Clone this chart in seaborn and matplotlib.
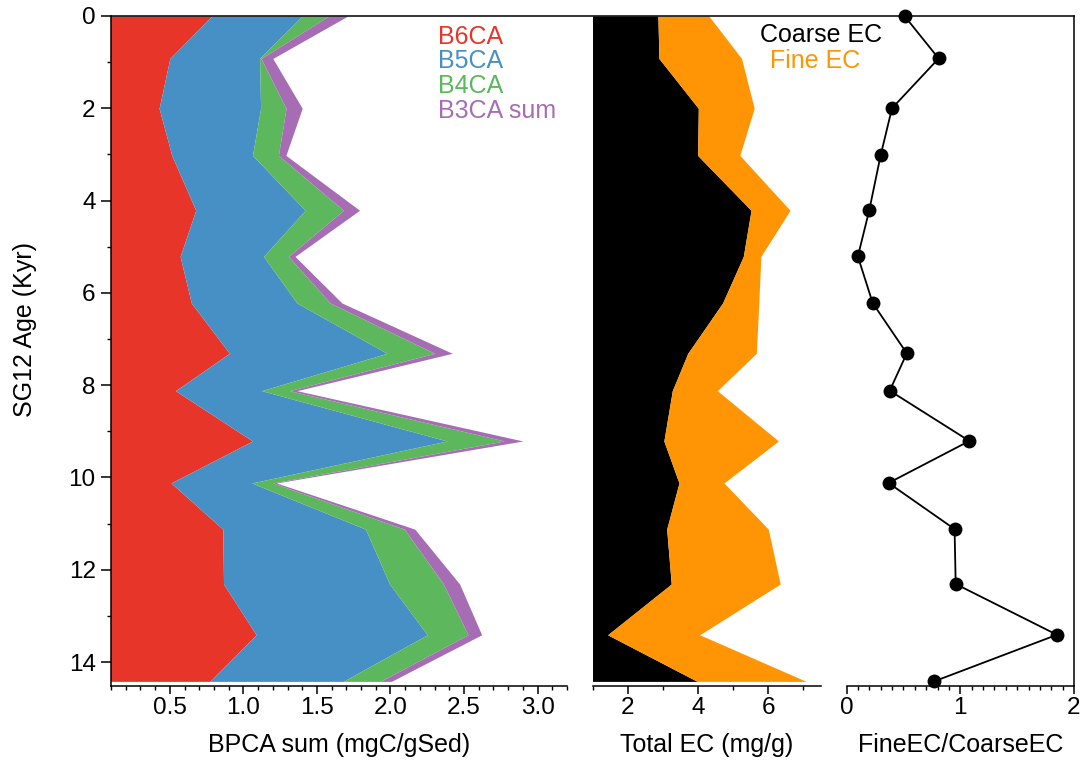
import numpy as np
import pandas as pd
import matplotlib
matplotlib.use("Agg")
import matplotlib.pyplot as plt
from matplotlib.ticker import MultipleLocator, FormatStrFormatter
import seaborn as sns

# Sample ages down core SG12 (kyr)
age_kyr = [0.0, 0.92, 2.0, 3.02, 4.21, 5.21, 6.22, 7.31, 8.12, 9.21,
           10.12, 11.12, 12.31, 13.41, 14.42]

# Benzenepolycarboxylic acid markers (mgC/gSed)
b6ca = [0.785, 0.50, 0.427, 0.513, 0.676, 0.57, 0.646, 0.905, 0.538, 1.062,
        0.508, 0.86, 0.865, 1.087, 0.772]
b5ca = [0.615, 0.61, 0.69, 0.549, 0.744, 0.567, 0.718, 1.071, 0.586, 1.322,
        0.549, 0.97, 1.129, 1.163, 0.907]
b4ca = [0.18, 0.01, 0.173, 0.176, 0.26, 0.169, 0.226, 0.324, 0.189, 0.39,
        0.143, 0.264, 0.366, 0.277, 0.251]
b3ca_sum = [0.13, 0.08, 0.11, 0.051, 0.11, 0.045, 0.08, 0.12, 0.051, 0.126,
            0.025, 0.071, 0.11, 0.093, 0.076]

# Elemental carbon fractions (mg/g)
coarse_ec = [2.86, 2.89, 4.01, 3.99, 5.51, 5.29, 4.70, 3.71, 3.27, 3.03,
             3.46, 3.11, 3.24, 1.43, 3.98]
fine_ec = [1.45, 2.35, 1.59, 1.20, 1.11, 0.50, 1.03, 1.95, 1.28, 3.26,
           1.28, 2.89, 3.10, 2.62, 3.10]
fine_coarse_ratio = [0.51, 0.81, 0.40, 0.30, 0.20, 0.10, 0.23, 0.53, 0.38, 1.08,
                     0.37, 0.95, 0.96, 1.85, 0.77]

bpca_names = ["B6CA", "B5CA", "B4CA", "B3CA sum"]
bpca_colors = ["#E8352A", "#4790C6", "#5DB75C", "#A66DB5"]
coarse_color = "#000000"
fine_color = "#FF9505"

sns.set_theme(style="ticks")
plt.rcParams["font.family"] = ["Liberation Sans", "DejaVu Sans"]
plt.rcParams.update({
    "axes.linewidth": 1.1,
    "xtick.major.width": 1.1, "ytick.major.width": 1.1,
    "xtick.minor.width": 1.0, "ytick.minor.width": 1.0,
    "xtick.major.size": 5.5, "ytick.major.size": 7,
    "xtick.minor.size": 2.8, "ytick.minor.size": 3.2,
    "xtick.labelsize": 17.5, "ytick.labelsize": 17.5,
    "axes.labelsize": 18,
    "xtick.color": "black", "ytick.color": "black",
    "axes.edgecolor": "black", "text.color": "black",
    "axes.labelcolor": "black",
})

W, H = 1086, 766
fig = plt.figure(figsize=(W / 100, H / 100), dpi=100)

top_px, bot_px = 16, 686
b = (H - bot_px) / H
h = (bot_px - top_px) / H

def add_panel(x0, x1):
    return fig.add_axes([x0 / W, b, (x1 - x0) / W, h])

ax1 = add_panel(111, 567)
ax2 = add_panel(592.5, 821)
ax3 = add_panel(846.5, 1074)

ylim = (14.52, 0)
age = np.array(age_kyr)

# Stacked BPCA composition
stack = np.vstack([b6ca, b5ca, b4ca, b3ca_sum])
upper = np.cumsum(stack, axis=0)
lower = np.vstack([np.zeros(len(age)), upper[:-1]])
for lo, up, col in zip(lower, upper, bpca_colors):
    ax1.fill_betweenx(age, lo, up, color=col, linewidth=0)
ax1.set_xlim(0.1, 3.2)
ax1.set_ylim(*ylim)
ax1.xaxis.set_major_locator(MultipleLocator(0.5))
ax1.xaxis.set_minor_locator(MultipleLocator(0.1))
ax1.xaxis.set_major_formatter(FormatStrFormatter("%.1f"))
ax1.yaxis.set_major_locator(MultipleLocator(2))
ax1.yaxis.set_minor_locator(MultipleLocator(1))
ax1.set_xlabel("BPCA sum (mgC/gSed)", labelpad=10)
ax1.set_ylabel("SG12 Age (Kyr)")
ax1.yaxis.set_label_coords((37 - 111) / 456, (686 - 330) / 670)
for s in ("top", "right"):
    ax1.spines[s].set_visible(False)

# Coarse and fine elemental carbon
coarse = np.array(coarse_ec)
total = coarse + np.array(fine_ec)
ax2.fill_betweenx(age, 0, coarse, color=coarse_color, linewidth=0)
ax2.fill_betweenx(age, coarse, total, color=fine_color, linewidth=0)
ax2.set_xlim(1, 7.5)
ax2.set_ylim(*ylim)
ax2.xaxis.set_major_locator(MultipleLocator(2))
ax2.xaxis.set_minor_locator(MultipleLocator(1))
ax2.set_xlabel("Total EC (mg/g)", labelpad=10)

# Fine/coarse ratio profile
ratio_df = pd.DataFrame({"age": age_kyr, "ratio": fine_coarse_ratio})
sns.lineplot(data=ratio_df, x="ratio", y="age", orient="y", errorbar=None,
             color="black", linewidth=1.3, marker="o", markersize=10,
             markeredgewidth=0, clip_on=False, ax=ax3)
ax3.set_xlim(0, 2)
ax3.set_ylim(*ylim)
ax3.xaxis.set_major_locator(MultipleLocator(1))
ax3.xaxis.set_minor_locator(MultipleLocator(0.1))
ax3.set_xlabel("FineEC/CoarseEC", labelpad=10)
ax3.set_ylabel("")

for ax in (ax2, ax3):
    for s in ("top", "right", "left"):
        ax.spines[s].set_visible(False)
    ax.set_yticks([])
    ax.tick_params(axis="y", which="both", left=False, labelleft=False)

for ax in (ax1, ax2, ax3):
    ax.set_facecolor("none")
    ax.tick_params(axis="x", which="major", pad=2.5)
    ax.tick_params(axis="y", which="major", pad=4)

# Shared outer frame: continuous top edge and right edge
frame = fig.add_axes([111 / W, b, (1074 - 111) / W, h], zorder=5)
frame.set_facecolor("none")
frame.set_xticks([])
frame.set_yticks([])
for s in ("left", "bottom"):
    frame.spines[s].set_visible(False)
ax3.set_zorder(6)

# In-panel labels
for i, (name, col) in enumerate(zip(bpca_names, bpca_colors)):
    fig.text(438 / W, 1 - (44 + 24.5 * i) / H, name, color=col,
             fontsize=18, ha="left", va="baseline")
fig.text(821 / W, 1 - 42 / H, "Coarse EC", color=coarse_color,
         fontsize=18, ha="center", va="baseline")
fig.text(815 / W, 1 - 68 / H, "Fine EC", color=fine_color,
         fontsize=18, ha="center", va="baseline")

fig.savefig("out.png", dpi=100, facecolor="white")
